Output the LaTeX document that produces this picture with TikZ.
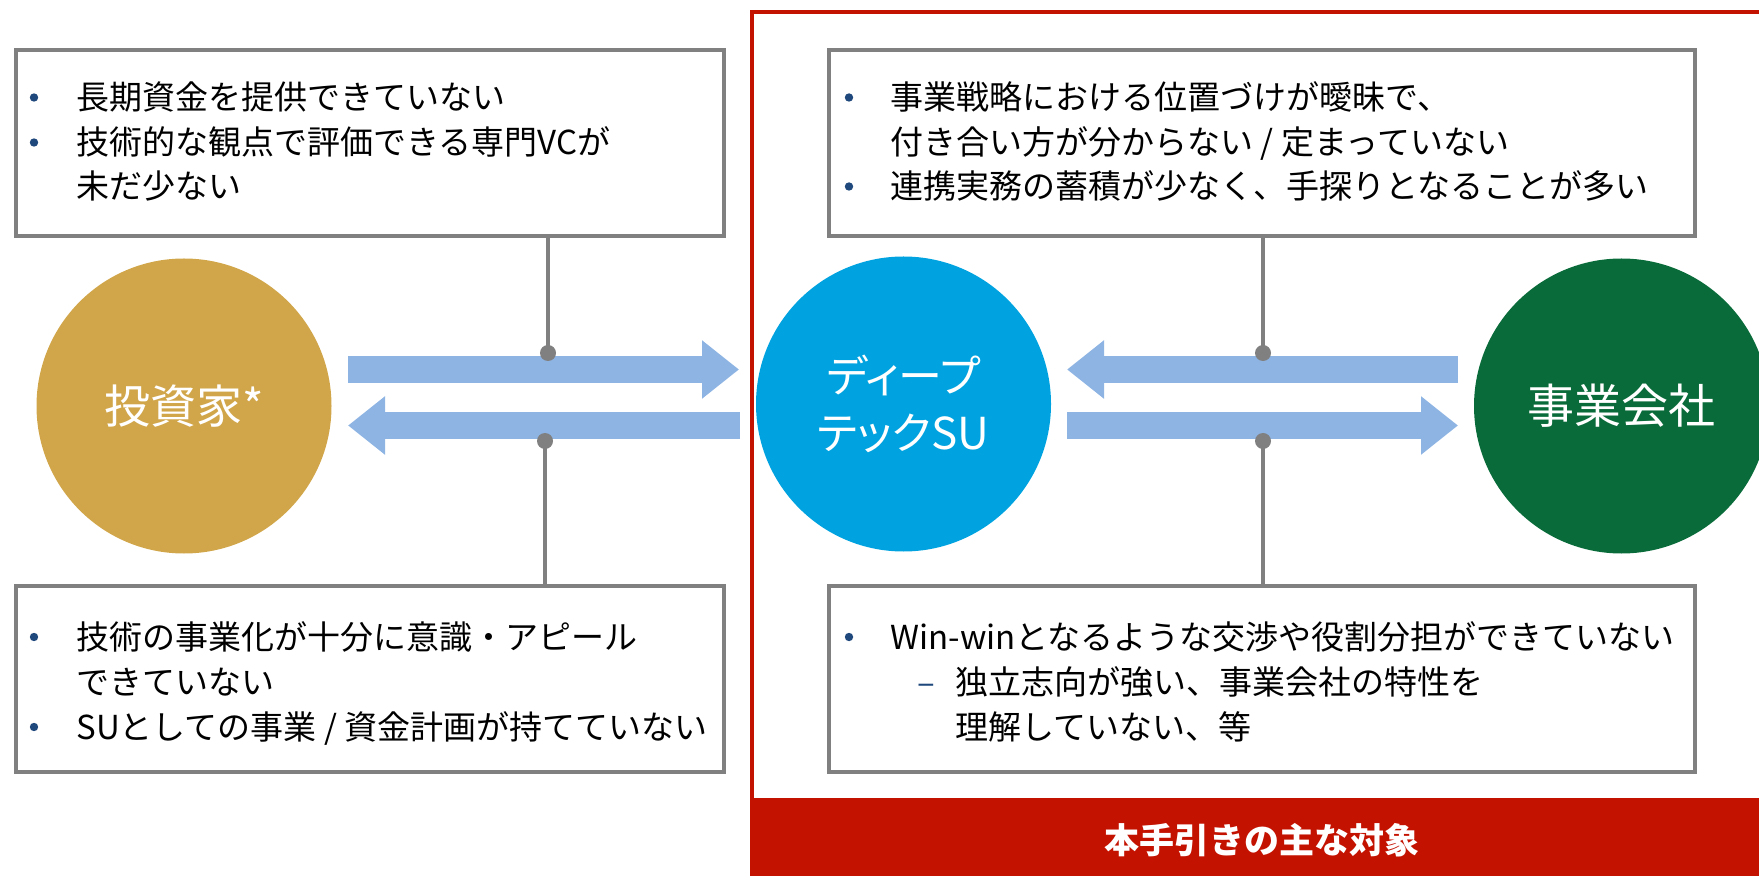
\documentclass[tikz,border=0pt]{standalone}
\usepackage{fontspec}
\setmainfont{Noto Sans CJK JP}
\newfontfamily\paltfont[RawFeature=+palt]{Noto Sans CJK JP}
\usetikzlibrary{arrows.meta}
\definecolor{goldc}{RGB}{209,166,74}
\definecolor{skyb}{RGB}{0,163,224}
\definecolor{dgreen}{RGB}{10,107,58}
\definecolor{arrb}{RGB}{142,180,227}
\definecolor{boxg}{RGB}{128,128,128}
\definecolor{redf}{RGB}{196,18,0}
\definecolor{bulc}{RGB}{31,73,125}
\begin{document}
\begin{tikzpicture}[x=0.5pt,y=-0.5pt,
  gbox/.style={draw=boxg, line width=2pt, fill=white, inner sep=0pt,
    minimum height=93.2pt},
  txt/.style={anchor=base west, inner sep=0pt, font=\fontsize{16.5pt}{20pt}\selectfont},
  bul/.style={circle, fill=bulc, inner sep=0pt, minimum size=4.2pt},
  circ/.style={circle, inner sep=0pt, minimum size=147.5pt, text=white},
  bigarr/.style={draw=arrb, line width=13.5pt, -{Triangle[length=18.5pt,width=28pt]}},
  conn/.style={draw=boxg, line width=1.6pt},
  dotc/.style={circle, fill=boxg, inner sep=0pt, minimum size=8pt}]
\useasboundingbox (0,0) rectangle (1759,876);
\clip (0,0) rectangle (1759,876);

% red frame and banner
\draw[redf, line width=2pt] (752,12) rectangle (1790,900);
\fill[redf] (752,798) rectangle (1790,900);
\node[text=white, inner sep=0pt, font=\bfseries\fontsize{17.5pt}{17.5pt}\selectfont] (bantext) at (1262,840) {本手引きの主な対象};

% boxes
\node[gbox, minimum width=354pt] (tlbox) at (369.5,142.8) {};
\node[gbox, minimum width=354pt] (blbox) at (369.5,678.8) {};
\node[gbox, minimum width=433pt] (trbox) at (1262,142.8) {};
\node[gbox, minimum width=433pt] (brbox) at (1262,678.8) {};

% top-left text
\node[bul] (tlb1) at (34,97.5) {};
\node[bul] (tlb2) at (34,142.5) {};
\node[txt] (tl1) at (76,110) {長期資金を提供できていない};
\node[txt] (tl2) at (76,155) {技術的な観点で評価できる専門VCが};
\node[txt] (tl3) at (76,199) {未だ少ない};

% top-right text
\node[bul] (trb1) at (849,97.5) {};
\node[bul] (trb2) at (849,186.5) {};
\node[txt] (tr1) at (890,110) {事業戦略における位置づけが曖昧で、};
\node[txt] (tr2) at (890,155) {付き合い方が分からない / 定まっていない};
\node[txt] (tr3) at (890,199) {連携実務の蓄積が少なく、手探りとなることが多い};

% bottom-left text
\node[bul] (blb1) at (34,637) {};
\node[bul] (blb2) at (34,727) {};
\node[txt] (bl1) at (76,649) {技術の事業化が十分に意識・アピール};
\node[txt] (bl2) at (76,694) {できていない};
\node[txt] (bl3) at (76,739) {SUとしての事業 / 資金計画が持てていない};

% bottom-right text
\node[bul] (brb1) at (849,637) {};
\node[txt] (br1) at (890,649) {Win-winとなるような交渉や役割分担ができていない};
\node[txt, anchor=base, text=bulc] (brd) at (926,694) {–};
\node[txt] (br2) at (955,694) {独立志向が強い、事業会社の特性を};
\node[txt] (br3) at (955,739) {理解していない、等};

% circles
\node[circ, fill=goldc, font=\fontsize{23pt}{23pt}\selectfont] (inv) at (184,406) {投資家*};
\node[circ, fill=skyb, align=center, font=\paltfont\fontsize{22pt}{28.5pt}\selectfont] (su) at (903.5,404) {ディープ\\テックSU};
\node[circ, fill=dgreen, font=\fontsize{23.5pt}{23.5pt}\selectfont] (corp) at (1621.5,406) {事業会社};

% big arrows
\coordinate (a1s) at (348,369.5);  \coordinate (a1e) at (739,369.5);
\coordinate (a2s) at (740,425.5);  \coordinate (a2e) at (348,425.5);
\coordinate (a3s) at (1458,369.5); \coordinate (a3e) at (1067,369.5);
\coordinate (a4s) at (1067,425.5); \coordinate (a4e) at (1458,425.5);
\draw[bigarr] (a1s) -- (a1e);
\draw[bigarr] (a2s) -- (a2e);
\draw[bigarr] (a3s) -- (a3e);
\draw[bigarr] (a4s) -- (a4e);

% connectors with dots
\node[dotc] (d1) at (548,353) {};
\node[dotc] (d2) at (545,441) {};
\node[dotc] (d3) at (1263,353) {};
\node[dotc] (d4) at (1263,441) {};
\draw[conn] (d1 |- tlbox.south) -- (d1.center);
\draw[conn] (d2.center) -- (d2 |- blbox.north);
\draw[conn] (d3 |- trbox.south) -- (d3.center);
\draw[conn] (d4.center) -- (d4 |- brbox.north);
\end{tikzpicture}
\end{document}
